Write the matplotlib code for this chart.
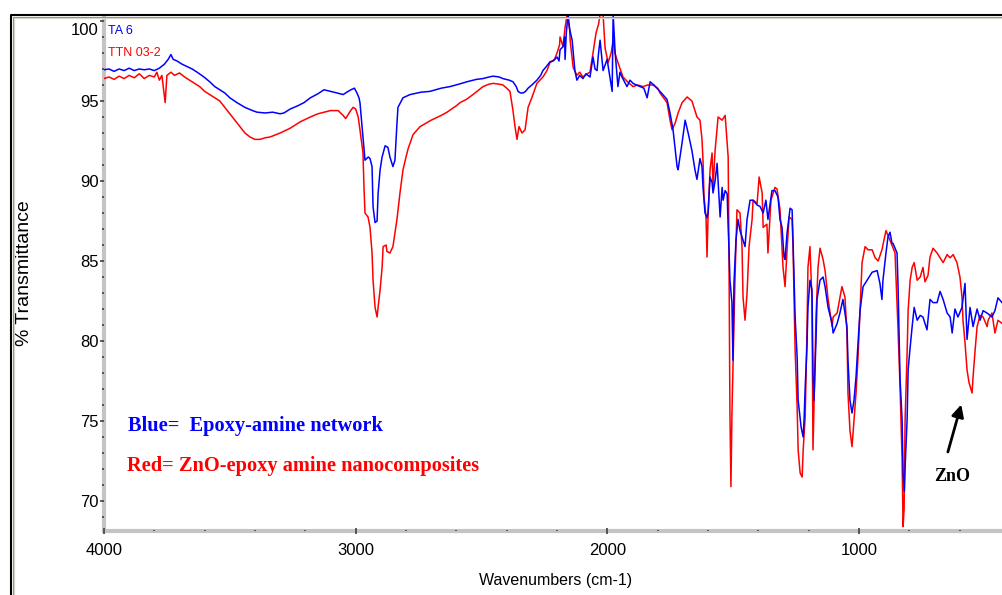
import matplotlib
matplotlib.use("Agg")
import matplotlib.pyplot as plt
from matplotlib.lines import Line2D
from matplotlib.ticker import MultipleLocator
from matplotlib.transforms import ScaledTranslation

# FTIR spectra: wavenumber (cm-1) and % transmittance
ta6_wn = [4000, 3980, 3960, 3940, 3920, 3900, 3880, 3860, 3840, 3820, 3800, 3780, 3760, 3745,
          3734, 3725, 3710, 3690, 3670, 3650, 3630, 3603, 3580, 3560, 3540, 3520, 3500, 3472,
          3440, 3410, 3392, 3360, 3330, 3300, 3285, 3260, 3230, 3205, 3180, 3150, 3126, 3100,
          3074, 3050, 3030, 3019, 3005, 2995, 2987, 2983, 2971, 2963, 2950, 2943, 2935, 2931,
          2923, 2915, 2911, 2903, 2895, 2883, 2872, 2864, 2852, 2844, 2836, 2832, 2812, 2784,
          2740, 2705, 2660, 2625, 2590, 2558, 2520, 2494, 2470, 2454, 2430, 2415, 2390, 2375,
          2362, 2355, 2345, 2335, 2325, 2315, 2300, 2280, 2265, 2256, 2240, 2228, 2215, 2200,
          2192, 2188, 2176, 2170, 2168, 2163, 2156, 2150, 2140, 2129, 2121, 2110, 2097, 2085,
          2069, 2057, 2049, 2041, 2035, 2029, 2017, 2001, 1990, 1981, 1977, 1969, 1958, 1950,
          1942, 1932, 1922, 1910, 1898, 1885, 1870, 1855, 1842, 1830, 1815, 1803, 1791, 1763,
          1751, 1739, 1723, 1719, 1703, 1691, 1679, 1664, 1652, 1644, 1632, 1624, 1620, 1612,
          1604, 1600, 1592, 1584, 1580, 1572, 1564, 1560, 1552, 1544, 1540, 1532, 1524, 1520,
          1517, 1513, 1505, 1501, 1497, 1489, 1481, 1473, 1461, 1453, 1445, 1433, 1421, 1405,
          1393, 1381, 1370, 1362, 1346, 1334, 1322, 1314, 1306, 1298, 1294, 1286, 1274, 1266,
          1262, 1254, 1246, 1242, 1230, 1222, 1218, 1214, 1207, 1203, 1195, 1187, 1183, 1179,
          1171, 1167, 1155, 1143, 1135, 1123, 1107, 1103, 1087, 1076, 1064, 1048, 1044, 1036,
          1028, 1020, 1012, 1004, 996, 984, 968, 948, 928, 917, 909, 905, 893, 885, 877, 869,
          865, 857, 849, 845, 837, 829, 825, 820, 817, 809, 805, 797, 789, 781, 769, 757, 746,
          730, 718, 706, 690, 678, 666, 650, 638, 630, 619, 607, 591, 579, 571, 559, 547, 531,
          519, 507, 487, 472, 460, 448, 432]
ta6_t = [96.95, 97.0, 96.85, 97.0, 96.9, 97.05, 96.9, 97.0, 96.95, 97.0, 96.9, 97.05, 97.3, 97.6,
         97.9, 97.6, 97.5, 97.3, 97.15, 97.0, 96.8, 96.5, 96.2, 95.9, 95.7, 95.5, 95.2, 94.9,
         94.6, 94.4, 94.3, 94.25, 94.3, 94.2, 94.25, 94.5, 94.7, 94.9, 95.2, 95.45, 95.7, 95.6,
         95.5, 95.4, 95.6, 95.7, 95.8, 95.5, 95.2, 94.9, 92.75, 91.3, 91.5, 91.4, 90.9, 88.4,
         87.4, 87.5, 89.2, 90.7, 91.5, 92.2, 92.1, 91.5, 90.9, 91.3, 93.6, 94.6, 95.2, 95.4,
         95.55, 95.6, 95.8, 95.9, 96.05, 96.2, 96.35, 96.4, 96.5, 96.55, 96.5, 96.4, 96.3, 96.2,
         95.9, 95.6, 95.5, 95.5, 95.6, 95.8, 96.0, 96.3, 96.6, 96.9, 97.2, 97.45, 97.5, 97.75,
         97.5, 98.2, 98.4, 99.0, 97.6, 99.3, 100.4, 99.5, 98.8, 96.9, 96.3, 96.6, 96.4, 96.7,
         96.5, 97.75, 97.0, 96.9, 98.0, 98.8, 96.9, 97.6, 96.5, 95.6, 100.4, 98.0, 95.9, 96.8,
         96.5, 96.2, 95.9, 96.3, 96.1, 96.0, 95.9, 95.8, 95.2, 96.2, 96.0, 95.8, 95.6, 95.1,
         94.25, 93.2, 90.9, 90.7, 92.4, 93.8, 93.0, 91.9, 90.7, 90.1, 91.4, 90.9, 89.6, 88.0,
         87.7, 88.0, 90.25, 89.9, 89.25, 90.0, 91.1, 90.0, 87.75, 89.6, 88.8, 89.4, 89.2, 87.1,
         85.9, 83.8, 82.4, 78.8, 83.6, 86.3, 87.6, 86.9, 86.3, 85.9, 87.6, 88.8, 88.8, 88.5,
         88.4, 88.0, 88.8, 87.6, 89.4, 89.4, 89.0, 87.6, 87.1, 85.25, 85.1, 86.75, 88.3, 88.2,
         86.1, 81.5, 79.0, 76.3, 74.6, 74.0, 75.25, 77.1, 79.6, 82.1, 83.8, 83.2, 78.0, 76.3,
         80.1, 82.6, 83.8, 84.0, 83.4, 82.1, 81.1, 80.5, 81.1, 81.75, 82.6, 80.9, 78.8, 76.3,
         75.5, 76.3, 77.75, 79.9, 81.9, 83.4, 83.8, 84.3, 84.4, 83.6, 82.6, 83.8, 85.5, 86.5,
         86.8, 86.1, 86.1, 85.8, 85.5, 83.4, 77.6, 75.1, 71.75, 70.6, 72.1, 75.1, 78.2, 79.6,
         80.9, 82.1, 81.3, 81.6, 81.5, 80.7, 82.6, 82.4, 82.4, 83.1, 82.6, 81.75, 81.5, 80.5,
         82.0, 81.5, 82.1, 83.6, 80.1, 82.1, 80.9, 82.0, 81.3, 81.9, 81.7, 81.5, 81.9, 82.7,
         82.4]

ttn_wn = [4000, 3980, 3960, 3940, 3920, 3900, 3880, 3860, 3840, 3820, 3800, 3790, 3780, 3770,
          3757, 3750, 3734, 3720, 3700, 3680, 3660, 3640, 3620, 3600, 3580, 3560, 3540, 3520,
          3500, 3480, 3460, 3440, 3420, 3400, 3380, 3360, 3340, 3300, 3260, 3220, 3180, 3150,
          3100, 3070, 3050, 3040, 3020, 3010, 3000, 2990, 2983, 2971, 2967, 2963, 2951, 2943,
          2935, 2931, 2923, 2915, 2911, 2903, 2895, 2891, 2879, 2876, 2864, 2852, 2836, 2824,
          2812, 2800, 2792, 2772, 2744, 2700, 2660, 2637, 2600, 2585, 2560, 2534, 2510, 2494,
          2470, 2454, 2430, 2415, 2400, 2387, 2375, 2367, 2359, 2351, 2339, 2327, 2315, 2299,
          2280, 2256, 2240, 2228, 2210, 2200, 2190, 2188, 2176, 2168, 2160, 2150, 2148, 2136,
          2121, 2110, 2097, 2080, 2069, 2057, 2045, 2035, 2029, 2017, 2009, 1997, 1985, 1977,
          1970, 1958, 1938, 1920, 1898, 1880, 1858, 1840, 1819, 1800, 1791, 1763, 1751, 1743,
          1731, 1719, 1703, 1683, 1664, 1644, 1632, 1624, 1620, 1616, 1608, 1604, 1600, 1592,
          1584, 1580, 1572, 1560, 1544, 1532, 1520, 1517, 1513, 1509, 1505, 1501, 1493, 1485,
          1473, 1465, 1461, 1453, 1445, 1437, 1425, 1421, 1405, 1397, 1385, 1381, 1366, 1362,
          1350, 1334, 1326, 1314, 1302, 1294, 1286, 1278, 1266, 1262, 1254, 1246, 1242, 1234,
          1226, 1222, 1214, 1207, 1203, 1195, 1187, 1183, 1179, 1171, 1163, 1155, 1143, 1135,
          1123, 1107, 1103, 1087, 1068, 1056, 1048, 1044, 1036, 1028, 1024, 1012, 1004, 996,
          988, 976, 964, 948, 936, 924, 909, 893, 877, 857, 845, 837, 829, 825, 821, 817, 809,
          805, 797, 789, 781, 769, 757, 746, 738, 726, 718, 706, 690, 678, 666, 650, 638, 626,
          611, 599, 591, 587, 579, 571, 563, 551, 547, 539, 531, 519, 507, 491, 487, 472, 460,
          448, 432]
ttn_t = [96.4, 96.5, 96.35, 96.55, 96.4, 96.6, 96.45, 96.7, 96.4, 96.6, 96.5, 96.8, 96.3, 96.6,
         94.9, 96.6, 96.8, 96.6, 96.75, 96.5, 96.3, 96.1, 95.9, 95.6, 95.4, 95.2, 95.0, 94.6,
         94.2, 93.8, 93.4, 93.0, 92.75, 92.6, 92.6, 92.7, 92.75, 93.0, 93.3, 93.7, 94.0, 94.2,
         94.4, 94.4, 94.1, 93.9, 94.4, 94.6, 94.5, 94.0, 93.2, 91.75, 89.6, 88.0, 87.75, 87.1,
         85.5, 83.8, 82.1, 81.5, 82.1, 83.2, 84.6, 85.9, 86.0, 85.6, 85.5, 85.9, 87.6, 89.25,
         90.7, 91.5, 92.0, 92.9, 93.4, 93.8, 94.1, 94.3, 94.7, 94.9, 95.1, 95.4, 95.7, 95.9,
         96.05, 96.1, 96.05, 96.0, 95.8, 95.6, 94.4, 93.4, 92.6, 93.4, 93.0, 93.2, 94.6, 95.25,
         96.1, 96.5, 96.9, 97.4, 97.6, 98.0, 98.5, 99.0, 98.4, 99.6, 100.4, 99.5, 98.8, 97.1,
         96.6, 96.8, 96.5, 96.7, 96.8, 98.0, 99.25, 99.8, 100.4, 100.4, 98.3, 97.4, 98.0, 98.8,
         98.0, 97.4, 96.5, 96.2, 95.9, 96.0, 95.9, 96.0, 96.0, 95.8, 95.5, 94.9, 93.8, 93.2,
         93.6, 94.25, 94.9, 95.25, 95.0, 94.0, 93.8, 92.6, 91.3, 89.0, 87.75, 85.25, 87.75, 90.7,
         91.75, 89.6, 91.9, 94.0, 93.8, 94.1, 91.5, 85.9, 75.5, 70.9, 75.5, 78.2, 83.8, 88.2,
         88.0, 85.9, 82.75, 81.3, 83.0, 85.9, 87.6, 88.8, 88.6, 90.25, 89.25, 87.1, 87.3, 85.5,
         88.8, 89.6, 89.5, 88.2, 84.6, 83.4, 85.7, 87.75, 87.6, 85.7, 79.4, 75.9, 73.2, 71.75,
         71.5, 73.2, 75.25, 80.5, 84.6, 85.9, 82.5, 73.2, 76.0, 81.5, 84.6, 85.8, 85.1, 84.4,
         82.6, 80.9, 81.5, 81.75, 83.4, 82.75, 80.5, 76.75, 74.4, 73.4, 74.2, 76.75, 79.0, 81.9,
         84.9, 85.9, 85.7, 85.7, 85.2, 85.0, 85.7, 86.9, 86.3, 85.5, 80.7, 77.1, 72.6, 68.4,
         69.5, 75.1, 79.25, 81.9, 83.8, 84.6, 84.9, 83.8, 84.0, 84.6, 83.7, 84.1, 85.25, 85.8,
         85.5, 85.2, 84.9, 85.4, 85.2, 85.4, 84.9, 84.0, 82.75, 81.3, 79.9, 78.2, 77.4, 76.75,
         77.75, 79.4, 80.9, 81.6, 81.5, 80.9, 81.3, 81.75, 80.5, 81.3, 81.1]

series_names = ["TA 6", "TTN 03-2"]
series_colors = ["#0000ff", "#ff0000"]
x_ticks = [4000, 3000, 2000, 1000]
y_ticks = [70, 75, 80, 85, 90, 95, 100]

W, H = 1002, 595
fig = plt.figure(figsize=(W / 100, H / 100), dpi=100)
fig.patch.set_facecolor("white")

# plot area in pixel terms
px_left, px_right, px_top, px_bottom = 104, 1002, 16, 530.5
ax = fig.add_axes([px_left / W, 1 - px_bottom / H,
                   (px_right - px_left) / W, (px_bottom - px_top) / H])
ax.set_xlim(4000, 432)
ax.set_ylim(68.16, 100.31)

ax.plot(ttn_wn, ttn_t, color=series_colors[1], lw=1.1, zorder=2)
ax.plot(ta6_wn, ta6_t, color=series_colors[0], lw=1.1, zorder=3)

for side in ("top", "right"):
    ax.spines[side].set_visible(False)
for side in ("left", "bottom"):
    ax.spines[side].set_color("#c4c4c4")
    ax.spines[side].set_linewidth(3.0)
    ax.spines[side].set_zorder(1)

ax.set_xticks(x_ticks)
ax.set_yticks(y_ticks)
ax.xaxis.set_minor_locator(MultipleLocator(200))
ax.yaxis.set_minor_locator(MultipleLocator(1))
tick_font = dict(family="Liberation Sans", size=12)
ax.set_xticklabels([str(v) for v in x_ticks], **tick_font)
ax.set_yticklabels([str(v) for v in y_ticks], **tick_font)
ax.tick_params(axis="y", which="major", direction="out", length=3, width=1.2,
               color="#404040", pad=1)
ax.tick_params(axis="y", which="minor", direction="out", length=1.5, width=1.2,
               color="#404040")
ax.tick_params(axis="x", which="major", direction="inout", length=4, width=1.2,
               color="#404040", pad=7)
ax.tick_params(axis="x", which="minor", direction="in", length=1, width=1.2,
               color="#404040")

# keep the top label inside the frame
top_label = ax.get_yticklabels()[-1]
top_label.set_transform(top_label.get_transform()
                        + ScaledTranslation(0, -0.08, fig.dpi_scale_trans))

# series names in the upper left corner
ax.text(0.005, 0.971, series_names[0], transform=ax.transAxes, color=series_colors[0],
        fontsize=9, family="Liberation Sans", va="center", ha="left")
ax.text(0.005, 0.928, series_names[1], transform=ax.transAxes, color=series_colors[1],
        fontsize=9, family="Liberation Sans", va="center", ha="left")

# descriptive notes
ax.text(0.0267, 0.2023, "Blue=  Epoxy-amine network", transform=ax.transAxes,
        color="#0000ff", fontsize=14.7, fontweight="bold", family="Liberation Serif",
        va="center", ha="left")
ax.text(0.0256, 0.1245, "Red= ZnO-epoxy amine nanocomposites", transform=ax.transAxes,
        color="#ff0000", fontsize=14.7, fontweight="bold", family="Liberation Serif",
        va="center", ha="left")

# ZnO band marker
ax.annotate("", xy=(591, 76.2), xytext=(650, 72.9),
            arrowprops=dict(arrowstyle="-|>", color="black", lw=2.0, mutation_scale=18))
ax.text(630, 71.55, "ZnO", color="black", fontsize=13, fontweight="bold",
        family="Liberation Serif", ha="center", va="center")

fig.text(25 / W, 1 - 273 / H, "% Transmittance", rotation=90, fontsize=14,
         family="Liberation Sans", ha="center", va="center")
fig.text(556 / W, 1 - 580 / H, "Wavenumbers (cm-1)", fontsize=11.5,
         family="Liberation Sans", ha="center", va="center")

# window-style frame around the plot
def frame_line(xs, ys, color, lw):
    fig.add_artist(Line2D([x / W for x in xs], [1 - y / H for y in ys],
                          color=color, lw=lw, solid_capstyle="butt"))

frame_line([10.5, 10.5, 1002], [595, 14.5, 14.5], "black", 1.5)
frame_line([12.5, 12.5, 1002], [595, 16.5, 16.5], "#8a8a80", 0.8)
frame_line([13.8, 13.8, 1002], [595, 17.8, 17.8], "#d8d6ce", 0.9)

fig.savefig("out.png", dpi=100)
